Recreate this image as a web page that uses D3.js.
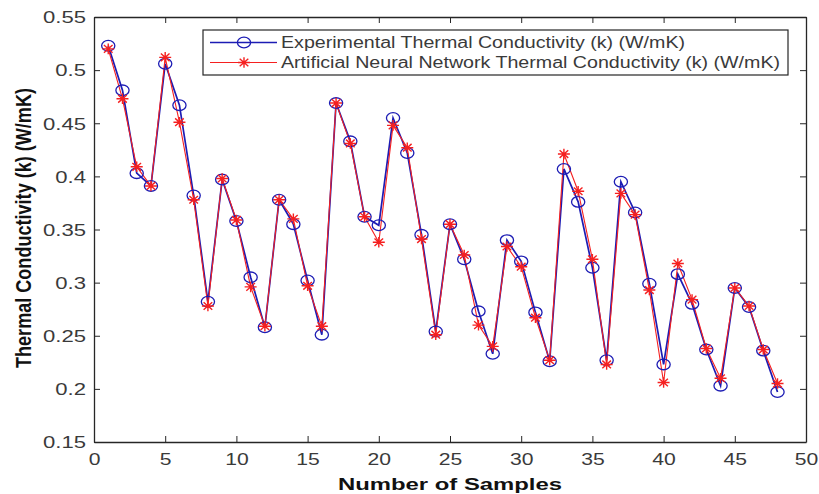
<!DOCTYPE html>
<html><head><meta charset="utf-8">
<script src="https://cdn.jsdelivr.net/npm/d3@7"></script>
<style>body{margin:0;background:#fff}svg{display:block;font-family:"Liberation Sans",Arial,sans-serif}</style>
</head><body><svg id="c" width="819" height="494"></svg>
<script>
const samples = d3.range(1, 49);
const experimental = [0.523,0.481,0.403,0.391,0.506,0.467,0.382,0.282,0.397,0.358,
0.305,0.258,0.378,0.355,0.302,0.251,0.469,0.433,0.362,0.354,
0.455,0.422,0.345,0.254,0.355,0.322,0.273,0.233,0.340,0.320,
0.272,0.226,0.407,0.376,0.314,0.227,0.395,0.366,0.299,0.223,
0.308,0.280,0.237,0.203,0.295,0.277,0.236,0.197];
const ann = [0.520,0.473,0.409,0.391,0.512,0.451,0.378,0.278,0.398,0.359,
0.296,0.259,0.378,0.360,0.297,0.259,0.469,0.431,0.362,0.338,
0.448,0.427,0.341,0.251,0.355,0.326,0.260,0.240,0.334,0.315,
0.267,0.227,0.421,0.386,0.322,0.223,0.384,0.364,0.293,0.206,
0.318,0.284,0.238,0.210,0.295,0.278,0.237,0.205];
const xTicks = [0,5,10,15,20,25,30,35,40,45,50];
const yTicks = [0.15,0.2,0.25,0.3,0.35,0.4,0.45,0.5,0.55];
const seriesNames = ["Experimental Thermal Conductivity (k) (W/mK)","Artificial Neural Network Thermal Conductivity (k) (W/mK)"];

const L=94, R=806, T=17, B=442;
const svg = d3.select("#c");
const x = d3.scaleLinear().domain([0,50]).range([L,R]);
const y = d3.scaleLinear().domain([0.15,0.55]).range([B,T]);
const blue="#1c1cb4", red="#f52020", axc="#262626", txc="#3a3a3a";

function stretch(sel, sx){
  sel.each(function(){ const w=this.getComputedTextLength(); d3.select(this).attr("textLength", w*sx).attr("lengthAdjust","spacingAndGlyphs"); });
}

// axes
const gx = svg.append("g").attr("transform",`translate(0,${B})`).call(d3.axisBottom(x).tickValues(xTicks).tickSizeInner(-6).tickSizeOuter(0).tickPadding(12).tickFormat(d3.format("d")));
const gxt = svg.append("g").attr("transform",`translate(0,${T})`).call(d3.axisTop(x).tickValues(xTicks).tickSizeInner(-6).tickSizeOuter(0).tickFormat(""));
const gy = svg.append("g").attr("transform",`translate(${L},0)`).call(d3.axisLeft(y).tickValues(yTicks).tickSizeInner(-6).tickSizeOuter(0).tickPadding(8).tickFormat(d=>String(+d.toFixed(2))));
const gyr = svg.append("g").attr("transform",`translate(${R},0)`).call(d3.axisRight(y).tickValues(yTicks).tickSizeInner(-6).tickSizeOuter(0).tickFormat(""));
[gx,gxt,gy,gyr].forEach(g=>{g.selectAll("path").attr("stroke",axc).attr("stroke-width",1.3);g.selectAll("line").attr("stroke",axc);g.selectAll("text").attr("fill",txc).style("font-size","16px").style("font-family","'Liberation Sans',Arial,sans-serif");});
gy.selectAll("text").attr("dy","0.36em");
stretch(gx.selectAll(".tick text"),1.32);
stretch(gy.selectAll(".tick text"),1.38);

// lines
const line = d3.line().x((d,i)=>x(samples[i])).y(d=>y(d));
svg.append("path").datum(experimental).attr("d",line).attr("fill","none").attr("stroke",blue).attr("stroke-width",1.7);
svg.append("path").datum(ann).attr("d",line).attr("fill","none").attr("stroke",red).attr("stroke-width",1.1);

function star(g, cx, cy, rx, ry){
  const k=0.72;
  const p=`M${cx-rx},${cy}L${cx+rx},${cy}M${cx},${cy-ry}L${cx},${cy+ry}M${cx-rx*k},${cy-ry*k}L${cx+rx*k},${cy+ry*k}M${cx-rx*k},${cy+ry*k}L${cx+rx*k},${cy-ry*k}`;
  g.append("path").attr("d",p).attr("stroke",red).attr("stroke-width",1.4).attr("fill","none");
}
svg.append("g").selectAll("ellipse").data(experimental).join("ellipse")
  .attr("cx",(d,i)=>x(samples[i])).attr("cy",d=>y(d)).attr("rx",6.6).attr("ry",5.3)
  .attr("fill","none").attr("stroke",blue).attr("stroke-width",1.3);
const sg = svg.append("g");
ann.forEach((d,i)=>star(sg, x(samples[i]), y(d), 6, 5.3));

// legend
const lg = svg.append("g");
lg.append("rect").attr("x",203).attr("y",30).attr("width",585).attr("height",45).attr("fill","#fff").attr("stroke",axc).attr("stroke-width",1.2);
lg.append("line").attr("x1",210).attr("x2",277).attr("y1",42.5).attr("y2",42.5).attr("stroke",blue).attr("stroke-width",1.6);
lg.append("ellipse").attr("cx",244).attr("cy",42.5).attr("rx",6.6).attr("ry",5.3).attr("fill","none").attr("stroke",blue).attr("stroke-width",1.3);
lg.append("line").attr("x1",210).attr("x2",277).attr("y1",62.5).attr("y2",62.5).attr("stroke",red).attr("stroke-width",1.1);
star(lg,244,62.5,6,5.3);
lg.append("text").attr("x",281).attr("y",48).text(seriesNames[0]).attr("fill",txc).style("font-size","16px").attr("textLength",404).attr("lengthAdjust","spacingAndGlyphs");
lg.append("text").attr("x",281).attr("y",67.5).text(seriesNames[1]).attr("fill",txc).style("font-size","16px").attr("textLength",499).attr("lengthAdjust","spacingAndGlyphs");

// labels
svg.append("text").attr("x",450).attr("y",490).attr("text-anchor","middle").attr("fill","#111").style("font-weight","bold").style("font-size","16px").attr("textLength",224).attr("lengthAdjust","spacingAndGlyphs").text("Number of Samples");
svg.append("text").attr("transform",`translate(31,228) scale(1.35,1) rotate(-90)`).attr("text-anchor","middle").attr("fill","#111").style("font-weight","bold").style("font-size","16px").attr("textLength",280).attr("lengthAdjust","spacingAndGlyphs").text("Thermal Conductivity (k) (W/mK)");
</script></body></html>
